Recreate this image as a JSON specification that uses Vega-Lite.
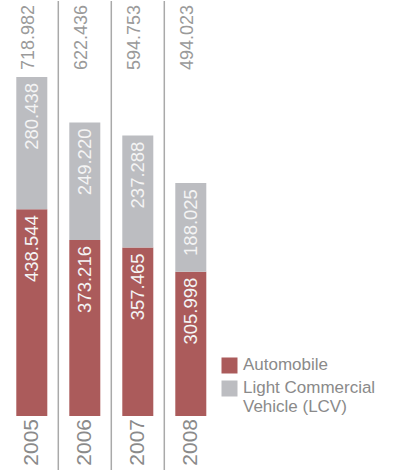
{
  "$schema": "https://vega.github.io/schema/vega-lite/v6.json",
  "width": 222.6,
  "height": 470,
  "padding": 0,
  "autosize": {"type": "pad"},
  "config": {"view": {"stroke": null}, "font": "Liberation Sans"},
  "datasets": {
    "segments": [
      {"year": "2005", "type": "Automobile", "ord": 1, "value": 438.544},
      {"year": "2005", "type": "Light Commercial Vehicle (LCV)", "ord": 2, "value": 280.438},
      {"year": "2006", "type": "Automobile", "ord": 1, "value": 373.216},
      {"year": "2006", "type": "Light Commercial Vehicle (LCV)", "ord": 2, "value": 249.220},
      {"year": "2007", "type": "Automobile", "ord": 1, "value": 357.465},
      {"year": "2007", "type": "Light Commercial Vehicle (LCV)", "ord": 2, "value": 237.288},
      {"year": "2008", "type": "Automobile", "ord": 1, "value": 305.998},
      {"year": "2008", "type": "Light Commercial Vehicle (LCV)", "ord": 2, "value": 188.025}
    ],
    "totals": [
      {"year": "2005", "total": 718.982},
      {"year": "2006", "total": 622.436},
      {"year": "2007", "total": 594.753},
      {"year": "2008", "total": 494.023}
    ]
  },
  "encoding": {
    "x": {
      "field": "year",
      "type": "nominal",
      "axis": null,
      "scale": {"domain": ["2005", "2006", "2007", "2008"], "paddingInner": 0, "paddingOuter": 0.1}
    }
  },
  "layer": [
    {
      "data": {"name": "totals"},
      "transform": [{"filter": "datum.year != '2005'"}],
      "mark": {"type": "rule", "color": "#a9a9a9", "strokeWidth": 1.5},
      "encoding": {
        "x": {"field": "year", "type": "nominal", "bandPosition": 0}
      }
    },
    {
      "data": {"name": "segments"},
      "mark": {"type": "bar", "width": {"band": 0.585}},
      "encoding": {
        "y": {
          "field": "value",
          "type": "quantitative",
          "stack": "zero",
          "axis": null,
          "scale": {"domain": [-116.6, 880.2], "nice": false, "zero": false}
        },
        "order": {"field": "ord", "type": "quantitative"},
        "color": {
          "field": "type",
          "type": "nominal",
          "scale": {
            "domain": ["Automobile", "Light Commercial Vehicle (LCV)"],
            "range": ["#ab5b5b", "#bcbdc1"]
          },
          "legend": {
            "title": null,
            "orient": "none",
            "legendX": 221,
            "legendY": 356,
            "symbolType": "square",
            "symbolSize": 256,
            "symbolStrokeWidth": 0,
            "symbolOpacity": 1,
            "labelFontSize": 17,
            "labelColor": "#8a8a8a",
            "labelFont": "Liberation Sans",
            "labelOffset": 5,
            "labelLimit": 300,
            "rowPadding": 5,
            "labelExpr": "datum.value == 'Light Commercial Vehicle (LCV)' ? ['Light Commercial', 'Vehicle (LCV)'] : datum.label"
          }
        }
      }
    },
    {
      "data": {"name": "segments"},
      "transform": [
        {"stack": "value", "groupby": ["year"], "sort": [{"field": "ord"}], "as": ["v0", "v1"]}
      ],
      "mark": {"type": "text", "angle": 270, "align": "right", "baseline": "middle", "dx": -6, "fontSize": 18.5, "color": "#f4f4f4"},
      "encoding": {
        "y": {"field": "v1", "type": "quantitative"},
        "text": {"field": "value", "type": "quantitative", "format": ".3f"}
      }
    },
    {
      "data": {"name": "totals"},
      "mark": {"type": "text", "angle": 270, "align": "right", "baseline": "middle", "dx": -4, "dy": -3, "fontSize": 18, "color": "#9a9a9a"},
      "encoding": {
        "y": {"datum": 880.2, "type": "quantitative"},
        "text": {"field": "total", "type": "quantitative", "format": ".3f"}
      }
    },
    {
      "data": {"name": "totals"},
      "mark": {"type": "text", "angle": 270, "align": "right", "baseline": "middle", "dx": -3, "fontSize": 21, "color": "#8a8a8a"},
      "encoding": {
        "y": {"datum": 0, "type": "quantitative"},
        "text": {"field": "year", "type": "nominal"}
      }
    }
  ]
}
